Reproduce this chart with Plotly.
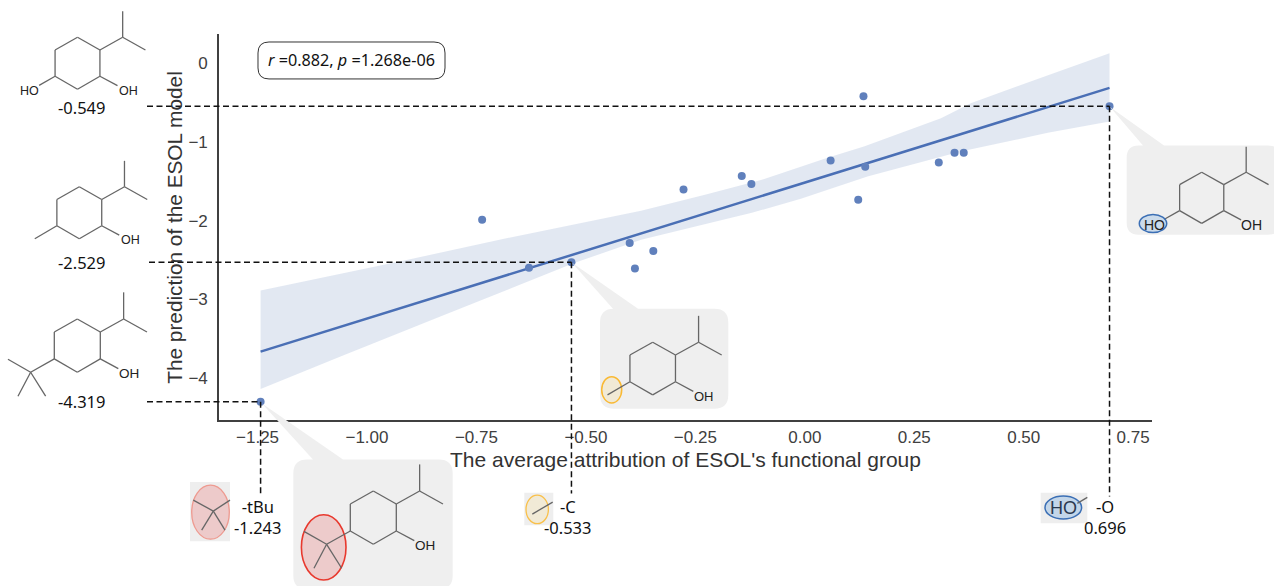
import plotly.graph_objects as go

# ---------- data ----------
attribution = [-1.243, -0.737, -0.630, -0.533, -0.400, -0.346, -0.388, -0.277, -0.144,
               -0.122, 0.059, 0.122, 0.138, 0.134, 0.306, 0.342, 0.363, 0.696]
prediction = [-4.30, -1.99, -2.598, -2.529, -2.285, -2.387, -2.607, -1.606, -1.436,
              -1.537, -1.238, -1.736, -1.318, -0.422, -1.264, -1.141, -1.141, -0.549]
fit_x = [-1.243, 0.696]
fit_y = [-3.663, -0.317]
upper_x = [-1.243, -0.907, -0.679, -0.374, -0.228, -0.098, 0.052, 0.135, 0.311, 0.379, 0.554, 0.696]
upper_y = [-2.886, -2.497, -2.222, -1.876, -1.673, -1.483, -1.204, -1.061, -0.701, -0.511, -0.158, 0.123]
lower_x = [-1.243, -1.059, -0.831, -0.679, -0.527, -0.374, -0.121, -0.009, 0.143, 0.356, 0.555, 0.696]
lower_y = [-4.136, -3.722, -3.215, -2.877, -2.539, -2.243, -1.901, -1.724, -1.441, -1.124, -0.887, -0.744]
highlight_x = [-1.243, -0.533, 0.696]
highlight_y = [-4.30, -2.529, -0.549]
x_ticks = [-1.25, -1.0, -0.75, -0.5, -0.25, 0.0, 0.25, 0.5, 0.75]
x_labels = ["−1.25", "−1.00", "−0.75", "−0.50", "−0.25", "0.00", "0.25", "0.50", "0.75"]
y_ticks = [-4, -3, -2, -1, 0]
y_labels = ["−4", "−3", "−2", "−1", "0"]
X_RANGE = [-1.338, 0.793]
Y_RANGE = [-4.53, 0.367]
x_title = "The average attribution of ESOL's functional group"
y_title = "The prediction of the ESOL model"

# ---------- page geometry ----------
L, R, T, B = 219, 1152, 34, 420.5
def px(x): return (x - L) / (R - L)
def py(y): return (B - y) / (B - T)
def dx(v): return (v - X_RANGE[0]) / (X_RANGE[1] - X_RANGE[0])
def dy(v): return (v - Y_RANGE[0]) / (Y_RANGE[1] - Y_RANGE[0])

shapes, notes = [], []
MOL = "#666666"

def seg(x0, y0, x1, y1, color=MOL, width=1.3):
    shapes.append(dict(type="line", xref="paper", yref="paper", x0=px(x0), y0=py(y0), x1=px(x1), y1=py(y1),
                       line=dict(color=color, width=width), layer="above"))

def text(x, y, s, size=16.5, color="#111111", family="Noto Sans", angle=0):
    notes.append(dict(x=px(x), y=py(y), xref="paper", yref="paper", text=s, showarrow=False, textangle=angle,
                      xanchor="center", yanchor="middle", font=dict(size=size, color=color, family=family)))

def ellipse(cx, cy, rx, ry, line, fill, width=1.5):
    shapes.append(dict(type="circle", xref="paper", yref="paper", x0=px(cx - rx), x1=px(cx + rx),
                       y0=py(cy + ry), y1=py(cy - ry), line=dict(color=line, width=width),
                       fillcolor=fill, layer="above"))

def rect(x0, y0, x1, y1, fill="#eeeeee"):
    shapes.append(dict(type="rect", xref="paper", yref="paper", x0=px(x0), x1=px(x1), y0=py(y1), y1=py(y0),
                       line=dict(width=0), fillcolor=fill, layer="above"))

def callout(x0, y0, x1, y1, r, tip, t0, t1):
    P = lambda a, b: f"{px(a):.5f},{py(b):.5f}"
    d = ("M" + P(x0 + r, y0) + "L" + P(t0, y0) + "L" + P(*tip) + "L" + P(t1, y0) + "L" + P(x1 - r, y0) +
         "Q" + P(x1, y0) + " " + P(x1, y0 + r) + "L" + P(x1, y1 - r) + "Q" + P(x1, y1) + " " + P(x1 - r, y1) +
         "L" + P(x0 + r, y1) + "Q" + P(x0, y1) + " " + P(x0, y1 - r) + "L" + P(x0, y0 + r) +
         "Q" + P(x0, y0) + " " + P(x0 + r, y0) + "Z")
    shapes.append(dict(type="path", xref="paper", yref="paper", path=d, line=dict(width=0),
                       fillcolor="#efefef", layer="above"))

def molecule(cx, cy, s, left=None, oh_size=13):
    Q = lambda a, b: (cx + a * s, cy + b * s)
    ring = [(0, -80), (69, -41), (69, 40), (0, 80), (-69, 40), (-69, -41), (0, -80)]
    for a, b in zip(ring[:-1], ring[1:]):
        seg(*Q(*a), *Q(*b))
    seg(*Q(69, -41), *Q(139, -80)); seg(*Q(139, -80), *Q(139, -160)); seg(*Q(139, -80), *Q(209, -41))
    seg(*Q(69, 40), *Q(123, 69))
    text(*Q(156, 84), "OH", oh_size, "#222222", "Liberation Sans")
    if left == "HO":
        seg(*Q(-69, 40), *Q(-118, 68))
        text(*Q(-148, 84), "HO", oh_size, "#222222", "Liberation Sans")
    elif left == "C":
        seg(*Q(-69, 40), *Q(-137, 80))
    elif left == "tBu":
        seg(*Q(-69, 40), *Q(-140, 80)); seg(*Q(-140, 80), *Q(-208, 41))
        seg(*Q(-140, 80), *Q(-95, 152)); seg(*Q(-140, 80), *Q(-178, 152))

# dashed guides tied to the data (extend past the axes on purpose)
DASH = dict(color="#111111", width=1.5, dash="6px,3.5px")
for vx, vy, left_px, bottom_px in zip(highlight_x, highlight_y, [147, 149, 147], [494, 494, 497]):
    shapes.append(dict(type="line", xref="paper", yref="y", x0=px(left_px), x1=dx(vx), y0=vy, y1=vy,
                       line=DASH, layer="above"))
    shapes.append(dict(type="line", xref="x", yref="paper", x0=vx, x1=vx, y0=dy(vy), y1=py(bottom_px),
                       line=DASH, layer="above"))

# callouts
callout(293.3, 460, 452.7, 590, 14, (262, 404), 313, 343)
callout(600, 309, 728.3, 409.3, 14, (572, 263), 613, 638)
callout(1126.7, 145.7, 1280, 235, 12, (1110, 107), 1143, 1164)

# left molecules
molecule(77.5, 63.3, 0.325, "HO", 12.5); text(81.7, 107.7, "-0.549")
molecule(79.3, 213, 0.325, "C", 12.5); text(81.7, 262.3, "-2.529")
molecule(77.3, 346, 1 / 3, "tBu", 13.5); text(81.7, 402.3, "-4.319")

# callout molecules
ellipse(323.7, 548, 22.3, 32.7, "#e8392e", "rgba(235,150,150,0.40)", 1.6)
molecule(373.3, 518.3, 1 / 3, "tBu", 13.5)
ellipse(611.7, 390.3, 10, 13.2, "#f9b934", "rgba(245,225,170,0.35)", 1.5)
molecule(652.7, 369, 0.33, "C", 13)
molecule(1201.7, 198, 0.32, "HO", 14)
ellipse(1153, 223.7, 13.7, 9, "#3b6fb5", "rgba(160,195,230,0.45)", 1.5)

# fragments below the axis
rect(190, 482.7, 230, 542)
ellipse(210.5, 512.8, 18.8, 27, "#ee9a90", "rgba(235,165,165,0.50)", 1.3)
seg(213.3, 511.7, 193.3, 500.7); seg(213.3, 511.7, 230, 500.7); seg(213.3, 511.7, 201.7, 530.7); seg(213.3, 511.7, 225, 530.7)
text(258.3, 518, "-tBu<br>-1.243")

rect(524.3, 493.3, 553.3, 526)
ellipse(537.2, 510, 11.2, 14.3, "#f9c04a", "rgba(245,225,170,0.35)", 1.3)
seg(532.3, 514.7, 552.7, 502.7)
text(568, 518, "-C<br>-0.533")

rect(1040.7, 493.3, 1087.3, 524)
ellipse(1063.3, 508.2, 18.3, 11.5, "#3b6fb5", "rgba(160,195,230,0.55)", 1.5)
seg(1077.3, 504, 1087.3, 498)
text(1063.3, 508.3, "HO", 18, "#2a3a50", "Liberation Sans")
text(1105, 518, "-O<br>0.696")

# stats box
P = lambda a, b: f"{px(a):.5f},{py(b):.5f}"
x0, y0, x1, y1, r = 258, 42, 445, 79, 11
shapes.append(dict(type="path", xref="paper", yref="paper", line=dict(color="#333333", width=1), fillcolor="white",
                   layer="above",
                   path="M" + P(x0 + r, y0) + "L" + P(x1 - r, y0) + "Q" + P(x1, y0) + " " + P(x1, y0 + r) + "L" + P(x1, y1 - r) +
                        "Q" + P(x1, y1) + " " + P(x1 - r, y1) + "L" + P(x0 + r, y1) + "Q" + P(x0, y1) + " " + P(x0, y1 - r) +
                        "L" + P(x0, y0 + r) + "Q" + P(x0, y0) + " " + P(x0 + r, y0) + "Z"))
text(351.5, 60.5, "<i>r</i> =0.882, <i>p</i> =1.268e-06", 16.2)

# axis titles, placed as in the reference (closer to the ticks than axis titles can sit)
text(685, 460.5, x_title, 21, "#333333", "Liberation Sans")
text(175, 228, y_title, 20.8, "#333333", "Liberation Sans", angle=-90)

fig = go.Figure()
fig.add_trace(go.Scatter(x=upper_x + lower_x[::-1], y=upper_y + lower_y[::-1], fill="toself", mode="none",
                         fillcolor="rgba(76,114,176,0.16)", hoverinfo="skip"))
fig.add_trace(go.Scatter(x=fit_x, y=fit_y, mode="lines", line=dict(color="#4a6fb5", width=2.5)))
fig.add_trace(go.Scatter(x=attribution, y=prediction, mode="markers",
                         marker=dict(color="#6080bc", size=8, line=dict(width=0))))

fig.update_layout(
    width=1274, height=586, autosize=False, showlegend=False,
    margin=dict(l=L, r=1274 - R, t=T, b=586 - B, pad=0),
    paper_bgcolor="white", plot_bgcolor="white",
    font=dict(family="Liberation Sans", color="#404040"),
    shapes=shapes, annotations=notes,
    xaxis=dict(range=X_RANGE, tickvals=x_ticks, ticktext=x_labels, showgrid=False, zeroline=False,
               showline=True, linecolor="#404040", linewidth=1.6, ticks="outside", ticklen=1,
               tickcolor="rgba(0,0,0,0)", tickfont=dict(size=17, color="#404040")),
    yaxis=dict(range=Y_RANGE, tickvals=y_ticks, ticktext=y_labels, showgrid=False, zeroline=False,
               showline=True, linecolor="#404040", linewidth=1.6, ticks="outside", ticklen=6,
               tickcolor="rgba(0,0,0,0)", tickfont=dict(size=17, color="#404040")),
)
fig.write_html("out.html", config={"displayModeBar": False},
               post_script="document.body.style.margin='0';document.documentElement.style.overflow='hidden';")
